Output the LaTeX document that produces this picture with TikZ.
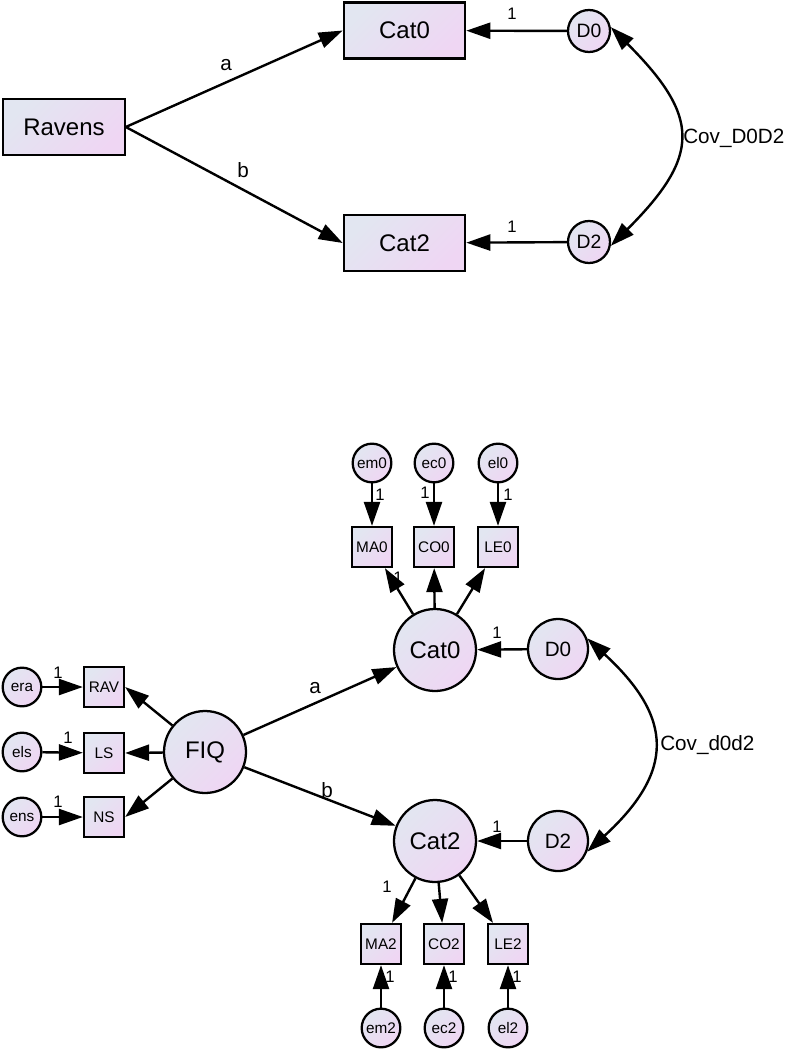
\documentclass[tikz,border=0pt]{standalone}
\usepackage{fontspec}
\setmainfont{Liberation Sans}
\usetikzlibrary{arrows.meta, positioning, shapes.geometric, calc}
\definecolor{amosgrey}{RGB}{226, 230, 241}
\definecolor{amospink}{RGB}{239, 214, 243}

\begin{document}
\begin{tikzpicture}[
      x=0.75pt, y=-0.75pt,
      amosfill/.style={draw=black, line width=1.7pt, top color=amosgrey, bottom color=amospink, shading angle=45, inner sep=0pt},
      obs/.style={rectangle, amosfill, minimum width=91pt, minimum height=42pt, font=\fontsize{18}{20}\selectfont},
      sobs/.style={rectangle, amosfill, minimum width=30pt, minimum height=30pt, font=\fontsize{11.5}{13}\selectfont},
      lat/.style={circle, amosfill, minimum size=61.5pt, font=\fontsize{18}{20}\selectfont},
      dis/.style={circle, amosfill, minimum size=45pt, font=\fontsize{15.5}{17}\selectfont},
      dtop/.style={circle, amosfill, minimum size=31.5pt, font=\fontsize{14.5}{17}\selectfont},
      err/.style={circle, amosfill, minimum size=29pt, font=\fontsize{11.5}{13}\selectfont},
      parr/.style={-{Triangle[length=18pt, width=12pt]}, line width=1.8pt},
      cov/.style={{Triangle[length=18pt, width=12pt]}-{Triangle[length=18pt, width=12pt]}, line width=1.8pt},
      lbl/.style={font=\fontsize{15.5}{18}\selectfont, inner sep=0pt},
      one/.style={font=\fontsize{12.5}{14}\selectfont, inner sep=0pt}
    ]
      \useasboundingbox (0,0) rectangle (791,1050);

      \node[obs] (R) at (64,127) {Ravens};
      \node[obs] (C0t) at (404.5,30.5) {Cat0};
      \node[obs] (C2t) at (404.5,243) {Cat2};
      \node[dtop] (D0t) at (589,31) {D0};
      \node[dtop] (D2t) at (589,242) {D2};

      \draw[parr] (R.east) -- (C0t.west);
      \draw[parr] (R.east) -- (C2t.west);
      \draw[parr] (D0t) -- (C0t);
      \draw[parr] (D2t) -- (C2t);
      \draw[cov] (D0t.10) .. controls +(90,90) and +(90,-90) .. (D2t.-10);

      \node[lbl] (la) at (226,65) {a};
      \node[lbl] (lb) at (243,170) {b};
      \node[one] (o1) at (512,14) {1};
      \node[one] (o2) at (512,227) {1};
      \node[lbl, anchor=west] (cv1) at (683,138) {Cov\_D0D2};

      \node[lat] (FIQ) at (205,752) {FIQ};
      \node[sobs] (RAV) at (104,687) {RAV};
      \node[sobs] (LS) at (104,753) {LS};
      \node[sobs] (NS) at (104,817) {NS};
      \node[err] (era) at (22,687) {era};
      \node[err] (els) at (22,752) {els};
      \node[err] (ens) at (22,817) {ens};

      \node[lat] (C0) at (435,650) {Cat0};
      \node[lat] (C2) at (435,841) {Cat2};
      \node[dis] (D0) at (558,649) {D0};
      \node[dis] (D2) at (558,841) {D2};

      \node[sobs] (MA0) at (372,547) {MA0};
      \node[sobs] (CO0) at (434,547) {CO0};
      \node[sobs] (LE0) at (498,547) {LE0};
      \node[err] (em0) at (372,463) {em0};
      \node[err] (ec0) at (434,463) {ec0};
      \node[err] (el0) at (498,463) {el0};

      \node[sobs] (MA2) at (381,944) {MA2};
      \node[sobs] (CO2) at (444,944) {CO2};
      \node[sobs] (LE2) at (508,944) {LE2};
      \node[err] (em2) at (381,1028) {em2};
      \node[err] (ec2) at (444,1028) {ec2};
      \node[err] (el2) at (508,1028) {el2};

      \draw[parr] (FIQ) -- (C0);
      \draw[parr] (FIQ) -- (C2);
      \draw[parr] (FIQ) -- (RAV.east);
      \draw[parr] (FIQ) -- (LS.east);
      \draw[parr] (FIQ) -- (NS.east);
      \draw[parr] (era) -- (RAV);
      \draw[parr] (els) -- (LS);
      \draw[parr] (ens) -- (NS);
      \draw[parr] (D0) -- (C0);
      \draw[parr] (D2) -- (C2);

      \draw[parr] (C0) -- (MA0);
      \draw[parr] (C0) -- (CO0);
      \draw[parr] (C0) -- (LE0);
      \draw[parr] (em0) -- (MA0);
      \draw[parr] (ec0) -- (CO0);
      \draw[parr] (el0) -- (LE0);

      \draw[parr] (C2) -- (MA2);
      \draw[parr] (C2) -- (CO2);
      \draw[parr] (C2) -- (LE2);
      \draw[parr] (em2) -- (MA2);
      \draw[parr] (ec2) -- (CO2);
      \draw[parr] (el2) -- (LE2);

      \draw[cov] (D0.20) .. controls +(87,80) and +(87,-80) .. (D2.-20);

      \node[lbl] (la2) at (315,688) {a};
      \node[lbl] (lb2) at (327,790) {b};
      \node[one] (o3) at (58,673) {1};
      \node[one] (o4) at (68,738) {1};
      \node[one] (o5) at (58,802) {1};
      \node[one] (o6) at (497,633) {1};
      \node[one] (o7) at (497,827) {1};
      \node[one] (o8) at (398,578) {1};
      \node[one] (o9) at (380,495) {1};
      \node[one] (o10) at (425,493) {1};
      \node[one] (o11) at (508,495) {1};
      \node[one] (o12) at (387,887) {1};
      \node[one] (o13) at (390,977) {1};
      \node[one] (o14) at (453,977) {1};
      \node[one] (o15) at (517,977) {1};
      \node[lbl, anchor=west] (cv2) at (660,745) {Cov\_d0d2};
    \end{tikzpicture}
\end{document}
